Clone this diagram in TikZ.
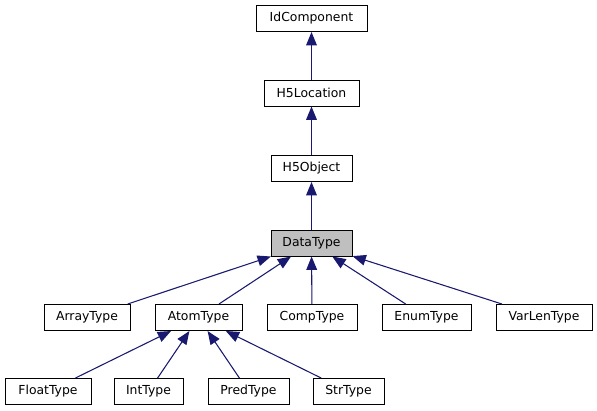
\documentclass[tikz,border=0pt]{standalone}
\usepackage{fontspec}
\setmainfont{DejaVu Sans}
\usetikzlibrary{arrows.meta}
\definecolor{edgeblue}{HTML}{191970}
\definecolor{hilite}{HTML}{BFBFBF}
\begin{document}
\begin{tikzpicture}[x=0.75pt,y=-0.75pt,
  cls/.style={draw=black,line width=0.75pt,fill=white,inner sep=0pt,minimum height=19.5pt,font=\fontsize{9.3}{11}\selectfont},
  edge/.style={draw=edgeblue,line width=0.8pt,-{Triangle[length=10pt,width=8pt,fill=edgeblue]}}]
\fill[white] (0,0) rectangle (597,411);
\useasboundingbox (0,0) rectangle (597,411);
\node[cls,minimum width=83.25pt] (idc) at (311.5,18.5) {IdComponent};
\node[cls,minimum width=71.25pt] (loc) at (311.5,93) {H5Location};
\node[cls,minimum width=60.75pt] (obj) at (311.5,168.5) {H5Object};
\node[cls,minimum width=60.75pt,fill=hilite] (dt) at (311.5,243) {DataType};
\node[cls,minimum width=64.5pt] (arr) at (87,317.5) {ArrayType};
\node[cls,minimum width=65.25pt] (atom) at (198.5,317.5) {AtomType};
\node[cls,minimum width=67.5pt] (comp) at (312,317.5) {CompType};
\node[cls,minimum width=66.75pt] (enum) at (426.5,317.5) {EnumType};
\node[cls,minimum width=72pt] (vlen) at (544,317.5) {VarLenType};
\node[cls,minimum width=64.5pt] (flt) at (48,391.5) {FloatType};
\node[cls,minimum width=51.75pt] (int) at (148.5,391.5) {IntType};
\node[cls,minimum width=60.75pt] (pred) at (248.5,391.5) {PredType};
\node[cls,minimum width=53.25pt] (str) at (348.5,391.5) {StrType};
\draw[edge] (loc) -- (idc);
\draw[edge] (obj) -- (loc);
\draw[edge] (dt) -- (obj);
\draw[edge] (arr) -- (dt);
\draw[edge] (atom) -- (dt);
\draw[edge] (comp) -- (dt);
\draw[edge] (enum) -- (dt);
\draw[edge] (vlen) -- (dt);
\draw[edge] (flt) -- (atom);
\draw[edge] (int) -- (atom);
\draw[edge] (pred) -- (atom);
\draw[edge] (str) -- (atom);
\end{tikzpicture}
\end{document}
